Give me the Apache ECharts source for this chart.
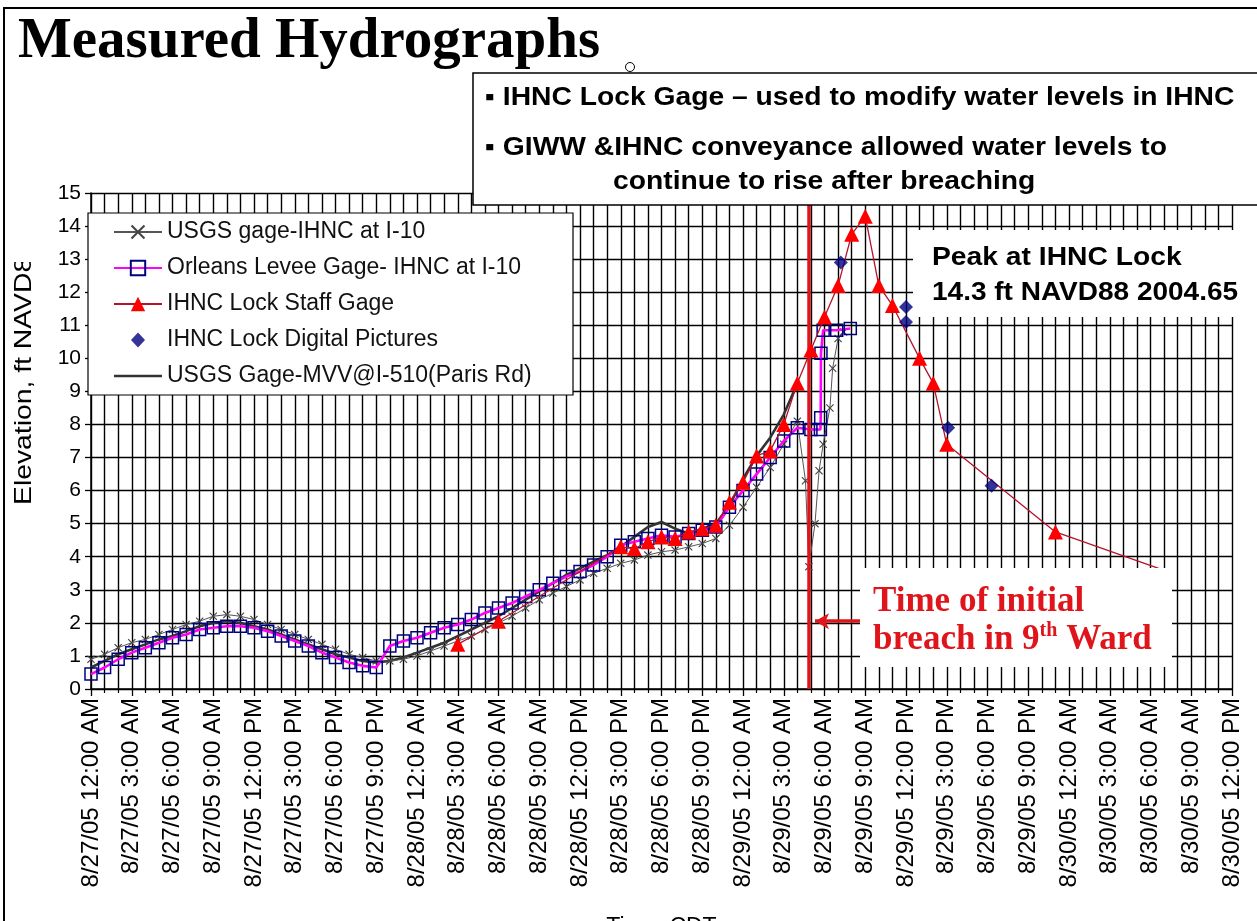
<!DOCTYPE html>
<html>
<head>
<meta charset="utf-8">
<script src="https://cdn.jsdelivr.net/npm/echarts@6/dist/echarts.min.js"></script>
<style>
  html, body { margin: 0; padding: 0; background: #fff; }
  #chart { width: 1257px; height: 921px; }
</style>
</head>
<body>
<div id="chart"></div>
<script>
// Time axis: hours after 8/27/05 12:00 AM, labelled every 3 hours
const xTickLabels = [
  '8/27/05 12:00 AM', '8/27/05 3:00 AM', '8/27/05 6:00 AM', '8/27/05 9:00 AM',
  '8/27/05 12:00 PM', '8/27/05 3:00 PM', '8/27/05 6:00 PM', '8/27/05 9:00 PM',
  '8/28/05 12:00 AM', '8/28/05 3:00 AM', '8/28/05 6:00 AM', '8/28/05 9:00 AM',
  '8/28/05 12:00 PM', '8/28/05 3:00 PM', '8/28/05 6:00 PM', '8/28/05 9:00 PM',
  '8/29/05 12:00 AM', '8/29/05 3:00 AM', '8/29/05 6:00 AM', '8/29/05 9:00 AM',
  '8/29/05 12:00 PM', '8/29/05 3:00 PM', '8/29/05 6:00 PM', '8/29/05 9:00 PM',
  '8/30/05 12:00 AM', '8/30/05 3:00 AM', '8/30/05 6:00 AM', '8/30/05 9:00 AM',
  '8/30/05 12:00 PM'
];

// USGS gage - IHNC at I-10 (ft NAVD88)
const usgsI10Hours = [
  0,1,2,3,4,5,6,7,8,9,10,11,12,13,14,15,16,17,18,19,20,21,22,23,24,25,
  26,27,28,29,30,31,32,33,34,35,36,37,38,39,40,41,42,43,44,45,46,47,48,49,50,51,52,
  52.6,52.85,53.3,53.6,53.9,54.4,54.6,55.0,55.4
];
const usgsI10Levels = [
  0.9,1.05,1.25,1.4,1.5,1.65,1.8,1.95,2.05,2.2,2.25,2.2,2.1,1.95,1.8,1.65,1.5,1.35,1.2,1.05,0.95,0.85,0.85,0.9,1.0,1.15,
  1.3,1.45,1.6,1.8,2.0,2.2,2.45,2.7,2.9,3.1,3.3,3.5,3.65,3.8,3.9,4.05,4.15,4.2,4.3,4.4,4.55,4.95,5.5,6.1,6.7,7.4,8.1,
  6.3,3.7,5.0,6.6,7.4,8.5,9.7,10.6,10.8
];

// Orleans Levee gage - IHNC at I-10
const orleansHours = [
  0,1,2,3,4,5,6,7,8,9,10,11,12,13,14,15,16,17,18,19,20,21,22,23,24,25,
  26,27,28,29,30,31,32,33,34,35,36,37,38,39,40,41,42,43,44,45,46,47,48,49,50,51,
  52,53,53.7,53.72,53.74,53.9,54.9,55.9
];
const orleansLevels = [
  0.45,0.65,0.9,1.1,1.25,1.4,1.55,1.65,1.8,1.85,1.9,1.9,1.85,1.75,1.6,1.45,1.3,1.1,0.95,0.8,0.7,0.65,1.3,1.45,1.55,1.7,
  1.85,1.95,2.1,2.3,2.45,2.6,2.8,3.0,3.2,3.4,3.55,3.75,4.0,4.35,4.45,4.55,4.65,4.6,4.7,4.8,4.9,5.5,6.0,6.5,7.0,7.5,
  7.9,7.85,7.85,8.2,10.15,10.85,10.85,10.9
];

// IHNC Lock staff gage readings
const staffHours = [27,30,39,40,41,42,43,44,45,46,47,48,49,50,51,52,53,54,55,56,57,58,59,61,62,63,71,78.6];
const staffLevels = [1.35,2.05,4.3,4.25,4.45,4.6,4.55,4.75,4.85,4.95,5.65,6.25,7.05,7.2,8.0,9.25,10.25,11.25,12.2,13.75,14.3,12.2,11.6,10.0,9.25,7.4,4.75,3.65];

// IHNC Lock levels
const pictureHours = [55.2,60,60,63.1,66.3];
const pictureLevels = [12.9,11.55,11.1,7.9,6.15];

// USGS gage - MVV @ I-510 (Paris Rd)
const mvvHours = [
  0,1,2,3,4,5,6,7,8,9,10,11,12,13,14,15,16,17,18,19,20,21,22,23,24,25,
  26,27,28,29,30,31,32,33,34,35,36,37,38,39,40,41,42,43,44,45,46,47,48,49,50,51,51.8
];
const mvvLevels = [
  0.65,0.85,1.05,1.2,1.35,1.5,1.6,1.75,1.9,2.0,2.05,2.0,1.9,1.8,1.65,1.5,1.35,1.2,1.05,0.95,0.85,0.8,0.85,0.95,1.1,1.25,
  1.4,1.6,1.8,2.0,2.2,2.45,2.7,2.95,3.2,3.45,3.65,3.85,4.05,4.3,4.6,4.9,5.05,4.85,4.7,4.85,5.0,5.55,6.35,7.05,7.6,8.3,9.05
];

// Time of the initial 9th Ward breach (hours) and the level of its pointer arrow
const breachHour = 52.85;
const arrowLevel = 2.05;

const seriesNames = [
  'USGS gage-IHNC at I-10',
  'Orleans Levee Gage- IHNC at I-10',
  'IHNC Lock Staff Gage',
  'IHNC Lock Digital Pictures',
  'USGS Gage-MVV@I-510(Paris Rd)'
];

const zip = (xs, ys) => xs.map((x, i) => [x, ys[i]]);
const SANS = "'Liberation Sans', Arial, sans-serif";
const SERIF = "'Liberation Serif', 'Times New Roman', serif";
const crossPath = 'path://M0,1L1,0L5,4L9,0L10,1L6,5L10,9L9,10L5,6L1,10L0,9L4,5Z';
// legend icons: a plain thick line, and a lone diamond (tiny corner stubs keep the icon box size)
const plainLineIcon = 'path://M0,0L0.01,0Z M0,7.7H48V10.3H0Z M48,18L47.99,18Z';
const loneDiamondIcon = 'path://M0,0L0.01,0Z M17,9L24,1.5L31,9L24,16.5Z M48,18L47.99,18Z';

const staffData = zip(staffHours, staffLevels).map((p, i, arr) =>
  i === arr.length - 1 ? { value: p, symbol: 'none' } : p);

const chart = echarts.init(document.getElementById('chart'), null, { renderer: 'canvas' });

chart.setOption({
  animation: false,
  backgroundColor: '#ffffff',
  grid: { left: 91, right: 25, top: 193, bottom: 232, containLabel: false, outerBoundsMode: 'none' },
  legend: {
    orient: 'vertical',
    left: 113,
    top: 220,
    padding: 0,
    z: 20,
    itemWidth: 48,
    itemHeight: 18,
    itemGap: 12,
    symbolKeepAspect: true,
    data: [
      { name: seriesNames[0] },
      { name: seriesNames[1] },
      { name: seriesNames[2] },
      { name: seriesNames[3], icon: loneDiamondIcon },
      { name: seriesNames[4], icon: plainLineIcon }
    ],
    textStyle: { fontFamily: SANS, fontSize: 23, lineHeight: 24, color: '#111' }
  },
  xAxis: {
    type: 'value',
    min: 0,
    max: 84,
    interval: 3,
    name: 'Time, CDT',
    nameLocation: 'middle',
    nameGap: 227,
    nameTextStyle: { fontFamily: SANS, fontSize: 23, color: '#000' },
    axisLine: { show: true, lineStyle: { color: '#000', width: 1.5 } },
    axisTick: { show: true, length: 7, lineStyle: { color: '#000', width: 1.3 } },
    minorTick: { show: true, splitNumber: 3, length: 4, lineStyle: { color: '#000', width: 1.2 } },
    splitLine: { show: true, lineStyle: { color: '#000', width: 1.4 } },
    minorSplitLine: { show: true, lineStyle: { color: '#000', width: 1.4 } },
    axisLabel: {
      rotate: 90,
      margin: 9,
      fontFamily: SANS,
      fontSize: 24,
      color: '#000',
      formatter: v => xTickLabels[Math.round(v / 3)] || ''
    }
  },
  yAxis: {
    type: 'value',
    min: 0,
    max: 15,
    interval: 1,
    axisLine: { show: true, lineStyle: { color: '#000', width: 1.5 } },
    axisTick: { show: true, length: 6, lineStyle: { color: '#000', width: 1.3 } },
    splitLine: { show: true, lineStyle: { color: '#000', width: 1.4 } },
    axisLabel: { margin: 10, fontFamily: SANS, fontSize: 21, color: '#000' }
  },
  series: [
    {
      name: seriesNames[4],
      type: 'line',
      z: 2,
      data: zip(mvvHours, mvvLevels),
      showSymbol: false,
      symbol: 'none',
      lineStyle: { color: '#333', width: 2.6 },
      itemStyle: { color: '#333' }
    },
    {
      name: seriesNames[0],
      type: 'line',
      z: 3,
      data: zip(usgsI10Hours, usgsI10Levels),
      symbol: crossPath,
      symbolSize: 8,
      showAllSymbol: true,
      lineStyle: { color: '#555', width: 1 },
      itemStyle: { color: '#444' }
    },
    {
      name: seriesNames[1],
      type: 'line',
      z: 4,
      data: zip(orleansHours, orleansLevels),
      symbol: 'rect',
      symbolSize: 12,
      showAllSymbol: true,
      lineStyle: { color: '#ff00ff', width: 2.6 },
      itemStyle: { color: 'rgba(255,255,255,0)', borderColor: '#000080', borderWidth: 1.5 }
    },
    {
      name: seriesNames[2],
      type: 'line',
      z: 5,
      data: staffData,
      symbol: 'triangle',
      symbolSize: 15,
      showAllSymbol: true,
      lineStyle: { color: '#b5122b', width: 1.3 },
      itemStyle: { color: '#ff0000' },
      markLine: {
        silent: true,
        symbol: 'none',
        label: { show: false },
        lineStyle: { color: '#e0151b', width: 3.5, type: 'solid' },
        data: [
          { xAxis: breachHour },
          [
            { coord: [breachHour + 0.45, arrowLevel], symbol: 'arrow', symbolSize: [12, 14] },
            { coord: [breachHour + 3.95, arrowLevel], symbol: 'none' }
          ]
        ]
      }
    },
    {
      name: seriesNames[3],
      type: 'scatter',
      z: 6,
      data: zip(pictureHours, pictureLevels),
      symbol: 'diamond',
      symbolSize: 14,
      itemStyle: { color: '#000080' }
    }
  ],
  graphic: [
    // outer frame
    { type: 'polyline', z: 30, shape: { points: [[4, 921], [4, 8], [1257, 8]] },
      style: { stroke: '#000', lineWidth: 2, fill: null } },
    // heading
    { type: 'text', z: 30, x: 18, y: 42,
      style: { text: 'Measured Hydrographs', font: 'bold 57px ' + SERIF, fill: '#000',
               align: 'left', verticalAlign: 'middle' } },
    { type: 'circle', z: 30, shape: { cx: 630, cy: 67, r: 4.5 },
      style: { fill: '#fff', stroke: '#000', lineWidth: 1 } },
    // notes box
    { type: 'rect', z: 10, shape: { x: 473, y: 73, width: 800, height: 132 },
      style: { fill: '#fff', stroke: '#000', lineWidth: 1.5 } },
    { type: 'text', z: 11, x: 485, y: 98, scaleX: 1.13,
      style: { text: '▪ IHNC Lock Gage – used to modify water levels in IHNC', font: 'bold 25px ' + SANS,
               fill: '#000', align: 'left', verticalAlign: 'middle' } },
    { type: 'text', z: 11, x: 485, y: 148, scaleX: 1.13,
      style: { text: '▪ GIWW &IHNC conveyance allowed water levels to', font: 'bold 25px ' + SANS,
               fill: '#000', align: 'left', verticalAlign: 'middle' } },
    { type: 'text', z: 11, x: 613, y: 182, scaleX: 1.13,
      style: { text: 'continue to rise after breaching', font: 'bold 25px ' + SANS,
               fill: '#000', align: 'left', verticalAlign: 'middle' } },
    // legend panel
    { type: 'rect', z: 10, shape: { x: 88, y: 213, width: 485, height: 182 },
      style: { fill: '#fff', stroke: '#000', lineWidth: 1.2 } },
    // peak note
    { type: 'rect', z: 10, shape: { x: 913, y: 230, width: 350, height: 87 }, style: { fill: '#fff' } },
    { type: 'text', z: 11, x: 932, y: 258, scaleX: 1.13,
      style: { text: 'Peak at IHNC Lock', font: 'bold 25px ' + SANS, fill: '#000',
               align: 'left', verticalAlign: 'middle' } },
    { type: 'text', z: 11, x: 932, y: 293, scaleX: 1.12,
      style: { text: '14.3 ft NAVD88 2004.65', font: 'bold 25px ' + SANS, fill: '#000',
               align: 'left', verticalAlign: 'middle' } },
    // breach note
    { type: 'rect', z: 10, shape: { x: 860, y: 568, width: 312, height: 99 }, style: { fill: '#fff' } },
    { type: 'text', z: 11, x: 873, y: 583,
      style: {
        text: '{a|Time of initial}\n{a|breach in 9}{s|th}{a| Ward}',
        align: 'left', verticalAlign: 'top',
        rich: {
          a: { font: 'bold 35px ' + SERIF, fill: '#e0151b', lineHeight: 38 },
          s: { font: 'bold 20px ' + SERIF, fill: '#e0151b', lineHeight: 20, verticalAlign: 'top' }
        }
      } },
    // vertical axis title
    { type: 'text', z: 11, x: 24, y: 505, rotation: Math.PI / 2, scaleX: 1.18,
      style: { text: 'Elevation, ft NAVD88', font: '24px ' + SANS, fill: '#000',
               align: 'left', verticalAlign: 'middle' } },
    { type: 'rect', z: 12, shape: { x: 8, y: 200, width: 36, height: 62 }, style: { fill: '#fff' } }
  ]
});
</script>
</body>
</html>
